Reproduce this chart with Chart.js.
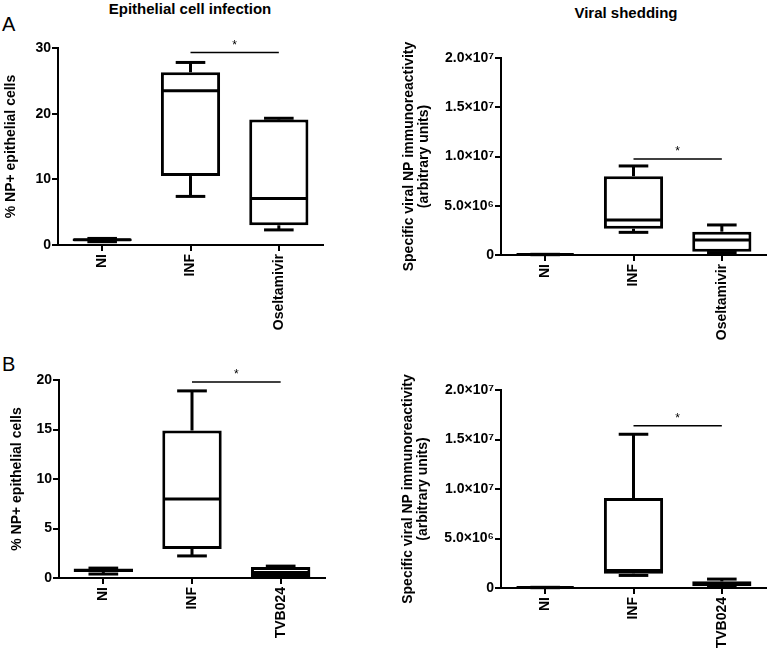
<!DOCTYPE html>
<html><head><meta charset="utf-8">
<script src="https://cdn.jsdelivr.net/npm/chart.js@4.4.1/dist/chart.umd.min.js"></script>
<style>
html,body{margin:0;padding:0;background:#fff;width:768px;height:651px;overflow:hidden;position:relative;font-family:"Liberation Sans",Arial,sans-serif;}
canvas{position:absolute;}
.lbl{position:absolute;color:#000;white-space:nowrap;line-height:1;}
.ttl{font-size:15px;font-weight:bold;transform:translate(-50%,-50%);}
</style></head><body>
<div class="lbl" style="left:2px;top:14px;font-size:20px;">A</div>
<div class="lbl" style="left:2px;top:354px;font-size:20px;">B</div>
<div class="lbl ttl" style="left:190px;top:8px;">Epithelial cell infection</div>
<div class="lbl ttl" style="left:626px;top:12px;">Viral shedding</div>
<canvas id="cAL" width="384" height="345" style="left:0;top:0"></canvas>
<canvas id="cAR" width="384" height="345" style="left:384px;top:0"></canvas>
<canvas id="cBL" width="384" height="331" style="left:0;top:320px"></canvas>
<canvas id="cBR" width="384" height="331" style="left:384px;top:320px"></canvas>
<script>
// ---- Data ----
const catsA = ['NI', 'INF', 'Oseltamivir'];
const catsB = ['NI', 'INF', 'TVB024'];

// Panel A – epithelial cell infection (% NP+ epithelial cells)
const epiA_min = [0.5, 7.4, 2.3];
const epiA_q1  = [0.6, 10.5, 3.0];
const epiA_med = [0.8, 23.5, 7.1];
const epiA_q3  = [1.0, 26.3, 19.1];
const epiA_max = [1.0, 27.8, 19.3];
const epiA_sig = [1, 2, 29.3];

// Panel A – viral shedding (arbitrary units)
const shedA_min = [30000, 2300000, 250000];
const shedA_q1  = [40000, 2670000, 340000];
const shedA_med = [50000, 3550000, 1520000];
const shedA_q3  = [60000, 8000000, 2370000];
const shedA_max = [70000, 9040000, 3050000];
const shedA_sig = [1, 2, 9750000];

// Panel B – epithelial cell infection
const epiB_min = [0.4, 2.23, 0.05];
const epiB_q1  = [0.6, 2.94, 0.1];
const epiB_med = [0.75, 7.97, 0.55];
const epiB_q3  = [0.95, 14.9, 1.1];
const epiB_max = [1.0, 18.9, 1.2];
const epiB_sig = [1, 2, 19.8];

// Panel B – viral shedding
const shedB_min = [30000, 1270000, 150000];
const shedB_q1  = [40000, 1440000, 170000];
const shedB_med = [50000, 1780000, 450000];
const shedB_q3  = [60000, 9080000, 670000];
const shedB_max = [70000, 15530000, 900000];
const shedB_sig = [1, 2, 16400000];

const epiTicksA = ['0', '10', '20', '30'];
const epiTicksB = ['0', '5', '10', '15', '20'];
const shedTicks = ['0', '5.0×10⁶', '1.0×10⁷', '1.5×10⁷', '2.0×10⁷'];

// ---- Drawing ----
const FONT = '"Liberation Sans", Arial, sans-serif';

const boxPlugin = {
  id: 'boxWhisker',
  afterDatasetsDraw(chart) {
    const p = chart.options.plugins.boxWhisker;
    const ctx = chart.ctx, x = chart.scales.x, y = chart.scales.y;
    const meta = chart.getDatasetMeta(0);
    const line = (x1, y1, x2, y2) => { ctx.beginPath(); ctx.moveTo(x1, y1); ctx.lineTo(x2, y2); ctx.stroke(); };
    ctx.save();
    ctx.strokeStyle = '#000';
    ctx.lineWidth = 3;
    ctx.lineCap = 'butt';
    meta.data.forEach((bar, i) => {
      const cx = x.getPixelForValue(i);
      const half = bar.width / 2;
      const cap = half / 2;
      const yMin = y.getPixelForValue(p.min[i]);
      const yQ1 = y.getPixelForValue(p.q1[i]);
      const yMed = y.getPixelForValue(p.med[i]);
      const yQ3 = y.getPixelForValue(p.q3[i]);
      const yMax = y.getPixelForValue(p.max[i]);
      line(cx, yQ3, cx, yMax);
      line(cx - cap, yMax, cx + cap, yMax);
      line(cx, yQ1, cx, yMin);
      line(cx - cap, yMin, cx + cap, yMin);
      line(cx - half + 1, yMed, cx + half - 1, yMed);
    });
    const [a, b, v] = p.sig;
    const ys = y.getPixelForValue(v);
    ctx.lineWidth = 1.5;
    line(x.getPixelForValue(a), ys, x.getPixelForValue(b), ys);
    ctx.fillStyle = '#000';
    ctx.font = '12px ' + FONT;
    ctx.textAlign = 'center';
    ctx.textBaseline = 'middle';
    ctx.fillText('*', (x.getPixelForValue(a) + x.getPixelForValue(b)) / 2, ys - 7);
    ctx.restore();
  }
};

function makeChart(id, g, cats, mn, q1, md, q3, mx, sig, yMax, step, tickLabels, title, titlePad) {
  const ctx = document.getElementById(id);
  return new Chart(ctx, {
    type: 'bar',
    data: {
      labels: cats,
      datasets: [{
        data: cats.map((c, i) => [q1[i], q3[i]]),
        backgroundColor: '#fff',
        borderColor: '#000',
        borderWidth: 3,
        borderSkipped: false,
        barPercentage: 0.67,
        categoryPercentage: 1.0
      }]
    },
    options: {
      responsive: false,
      animation: false,
      devicePixelRatio: 1,
      layout: { padding: { left: 0, top: g.top, right: g.right, bottom: 0 } },
      plugins: {
        legend: { display: false },
        tooltip: { enabled: false },
        boxWhisker: { min: mn, q1: q1, med: md, q3: q3, max: mx, sig: sig }
      },
      scales: {
        x: {
          type: 'category',
          offset: true,
          grid: { display: true, offset: false, drawOnChartArea: false, drawTicks: true, tickLength: 6, color: '#000', lineWidth: 2 },
          border: { display: true, color: '#000', width: 2 },
          ticks: {
            color: '#000', autoSkip: false, minRotation: 90, maxRotation: 90, padding: 3,
            font: { family: FONT, size: 14, weight: 'bold' }
          },
          afterFit(s) { s.height = g.xh; }
        },
        y: {
          type: 'linear',
          min: 0, max: yMax,
          grid: { display: true, drawOnChartArea: false, drawTicks: true, tickLength: 6, color: '#000', lineWidth: 2 },
          border: { display: true, color: '#000', width: 2 },
          ticks: {
            stepSize: step, color: '#000', padding: 1,
            font: { family: FONT, size: 14, weight: 'bold' },
            callback: (v, i) => tickLabels[i]
          },
          title: {
            display: true, text: title, color: '#000',
            font: { family: FONT, size: 14, weight: 'bold', lineHeight: 1.1 },
            padding: { top: titlePad, bottom: 0 }
          },
          afterFit(s) { s.width = g.yw; }
        }
      }
    },
    plugins: [boxPlugin]
  });
}

makeChart('cAL', { top: 48, right: 61, xh: 100, yw: 58 }, catsA,
  epiA_min, epiA_q1, epiA_med, epiA_q3, epiA_max, epiA_sig, 30, 10, epiTicksA,
  '% NP+ epithelial cells', 3);
makeChart('cAR', { top: 58, right: 2, xh: 90, yw: 117 }, catsA,
  shedA_min, shedA_q1, shedA_med, shedA_q3, shedA_max, shedA_sig, 20000000, 5000000, shedTicks,
  ['Specific viral NP immunoreactivity', '(arbitrary units)'], 17);
makeChart('cBL', { top: 60, right: 59, xh: 73, yw: 59 }, catsB,
  epiB_min, epiB_q1, epiB_med, epiB_q3, epiB_max, epiB_sig, 20, 5, epiTicksB,
  '% NP+ epithelial cells', 9);
makeChart('cBR', { top: 70, right: 2, xh: 63, yw: 117 }, catsB,
  shedB_min, shedB_q1, shedB_med, shedB_q3, shedB_max, shedB_sig, 20000000, 5000000, shedTicks,
  ['Specific viral NP immunoreactivity', '(arbitrary units)'], 16);
</script>
</body></html>
